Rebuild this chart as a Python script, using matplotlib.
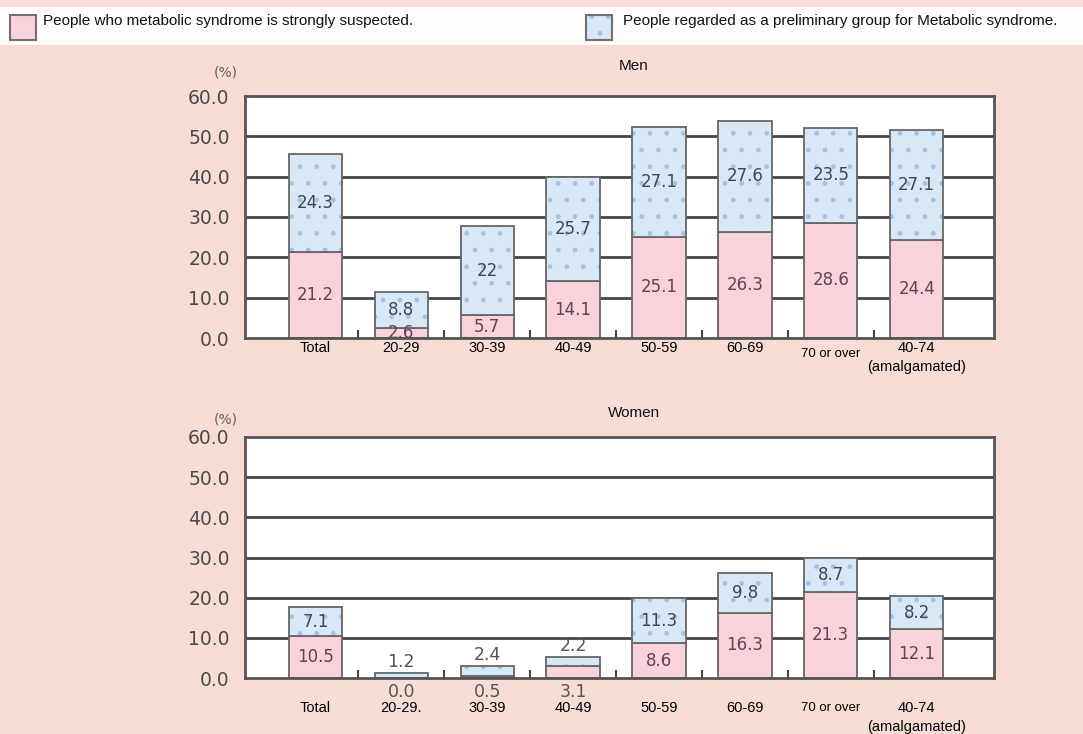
import numpy as np
import matplotlib
matplotlib.use("Agg")
import matplotlib.pyplot as plt
from matplotlib.patches import Rectangle

# data
men_labels = ["Total", "20-29", "30-39", "40-49", "50-59", "60-69", "70 or over", "40-74\n(amalgamated)"]
women_labels = ["Total", "20-29.", "30-39", "40-49", "50-59", "60-69", "70 or over", "40-74\n(amalgamated)"]
men_strong = [21.2, 2.6, 5.7, 14.1, 25.1, 26.3, 28.6, 24.4]
men_prelim = [24.3, 8.8, 22, 25.7, 27.1, 27.6, 23.5, 27.1]
men_prelim_txt = ["24.3", "8.8", "22", "25.7", "27.1", "27.6", "23.5", "27.1"]
women_strong = [10.5, 0.0, 0.5, 3.1, 8.6, 16.3, 21.3, 12.1]
women_prelim = [7.1, 1.2, 2.4, 2.2, 11.3, 9.8, 8.7, 8.2]
yticks = [0, 10, 20, 30, 40, 50, 60]

W, H = 1083, 734
BG = "#f8ddd7"
PINK = "#f9d2dc"
BLUE = "#d8e8f6"
EDGE = "#666666"
GRID = "#454545"

plt.rcParams['font.family'] = ['Liberation Sans', 'DejaVu Sans']

fig = plt.figure(figsize=(W / 100, H / 100), dpi=100)
fig.patch.set_facecolor(BG)


def fx(x):
    return x / W


def fy(y):
    return 1 - y / H


# white legend band on top
fig.patches.append(Rectangle((0, fy(45)), 1, fy(7) - fy(45), transform=fig.transFigure,
                             facecolor="#fffdfc", edgecolor="none", zorder=0))
fig.patches.append(Rectangle((fx(10), fy(40)), fx(26), fy(15) - fy(40), transform=fig.transFigure,
                             facecolor=PINK, edgecolor="#707070", lw=1.5, zorder=1))
fig.patches.append(Rectangle((fx(586), fy(40)), fx(26), fy(15) - fy(40), transform=fig.transFigure,
                             facecolor=BLUE, edgecolor="#a7c1e2", hatch=".", lw=0, zorder=1))
fig.patches.append(Rectangle((fx(586), fy(40)), fx(26), fy(15) - fy(40), transform=fig.transFigure,
                             facecolor="none", edgecolor="#707070", lw=1.5, zorder=2))
fig.text(fx(43), fy(21), "People who metabolic syndrome is strongly suspected.",
         fontsize=11, va="center", ha="left", color="#111111")
fig.text(fx(623), fy(21), "People regarded as a preliminary group for Metabolic syndrome.",
         fontsize=11, va="center", ha="left", color="#111111")


def draw_panel(rect, strong, prelim, prelim_txt, cats, title, title_y, women=False):
    ax = fig.add_axes(rect)
    ax.set_facecolor("white")
    x = np.arange(len(strong))
    ax.set_xlim(-0.82, 7.9)
    ax.set_ylim(0, 60)
    for v in yticks[1:-1]:
        ax.axhline(v, color=GRID, lw=2, zorder=1)
    w = 0.62
    ax.bar(x, strong, w, color=PINK, edgecolor=EDGE, lw=1.3, zorder=2)
    ax.bar(x, prelim, w, bottom=strong, color=BLUE, edgecolor="#a7c1e2", hatch=".", lw=0, zorder=2)
    ax.bar(x, prelim, w, bottom=strong, color="none", edgecolor=EDGE, lw=1.3, zorder=3)

    for i in range(len(x)):
        s, p = strong[i], prelim[i]
        if women and s < 5:
            # small bars: values outside
            ax.annotate(f"{s:.1f}", (x[i], 0), xytext=(0, -14), textcoords="offset pixels",
                        ha="center", va="center", fontsize=12.5, color="#555555",
                        family=["DejaVu Sans"], annotation_clip=False)
            ax.annotate(prelim_txt[i], (x[i], s + p), xytext=(0, 11), textcoords="offset pixels",
                        ha="center", va="center", fontsize=12.5, color="#555555",
                        family=["DejaVu Sans"])
        else:
            ax.text(x[i], s / 2, f"{s:.1f}", ha="center", va="center", fontsize=12,
                    color="#5e4450", family=["DejaVu Sans"], zorder=4)
            ax.text(x[i], s + p / 2, prelim_txt[i], ha="center", va="center", fontsize=12,
                    color="#3c4756", family=["DejaVu Sans"], zorder=4)

    # category labels
    lab_off = -30 if women else -10
    for i, c in enumerate(cats):
        off = lab_off
        fs = 10.5
        if c == "70 or over":
            fs = 9.5
            if not women:
                off = lab_off - 6
        if "\n" in c:
            top, bot = c.split("\n")
            ax.annotate(top, (x[i], 0), xytext=(0, off), textcoords="offset pixels",
                        ha="center", va="center", fontsize=fs, annotation_clip=False)
            ax.annotate(bot, (x[i], 0), xytext=(0, off - 19), textcoords="offset pixels",
                        ha="center", va="center", fontsize=fs, annotation_clip=False)
        else:
            ax.annotate(c, (x[i], 0), xytext=(0, off), textcoords="offset pixels",
                        ha="center", va="center", fontsize=fs, annotation_clip=False)

    ax.set_xticks([])
    ax.set_xticks(np.arange(0.5, 7, 1), minor=True)
    ax.tick_params(axis="x", which="minor", direction="in", length=6, width=1.5, color=GRID,
                   labelbottom=False)
    ax.set_yticks(yticks)
    ax.set_yticklabels([f"{v:.1f}" for v in yticks], family=["DejaVu Sans"], fontsize=13.5,
                       color="#4a4a4a")
    ax.tick_params(axis="y", length=0, pad=11)
    for sp in ax.spines.values():
        sp.set_color("#555555")
        sp.set_linewidth(2)
        sp.set_zorder(5)
    fig.text(fx(634), fy(title_y), title, ha="center", va="center", fontsize=11, color="#111111")
    fig.text(fx(226), fy(title_y + 6), "(%)", ha="center", va="center", fontsize=10,
             color="#606060", family=["DejaVu Sans"])
    return ax


draw_panel([fx(245), fy(338), fx(994 - 245), fy(96) - fy(338)], men_strong, men_prelim,
           men_prelim_txt, men_labels, "Men", 66)
draw_panel([fx(245), fy(678), fx(994 - 245), fy(437) - fy(678)], women_strong, women_prelim,
           [f"{v:.1f}" for v in women_prelim], women_labels, "Women", 413, women=True)

fig.savefig("out.png", dpi=100, facecolor=fig.get_facecolor())
